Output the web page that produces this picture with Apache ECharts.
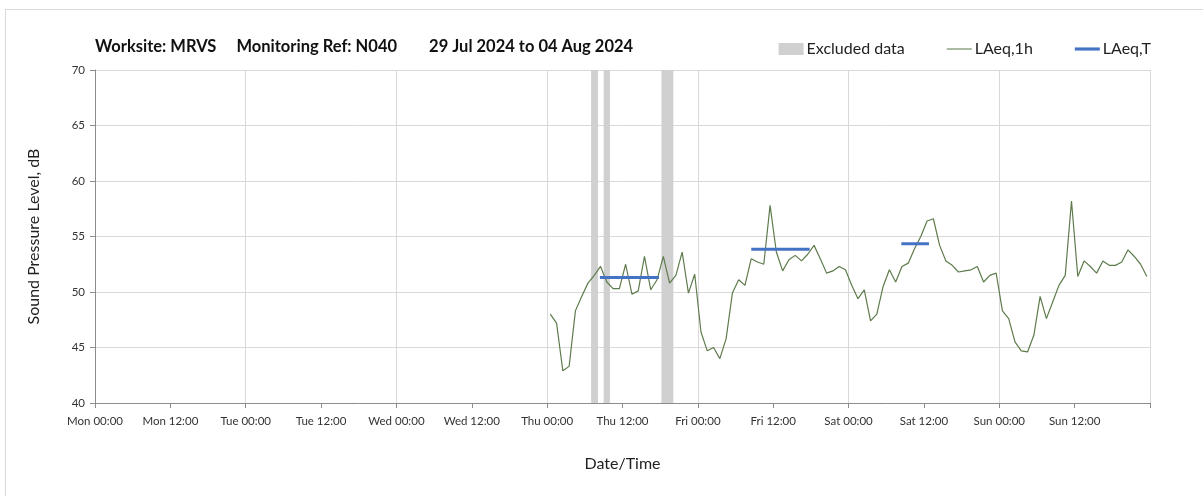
<!DOCTYPE html>
<html>
<head>
<meta charset="utf-8">
<title>Sound monitoring N040</title>
<script src="https://cdn.jsdelivr.net/npm/echarts@6/dist/echarts.min.js"></script>
<style>
    html, body { margin: 0; padding: 0; background: #fff; }
    #frame { position: absolute; left: 5px; top: 9px; width: 1300px; height: 600px; border: 1px solid #d9d9d9; }
    #chart { position: absolute; left: 0; top: 0; width: 1203px; height: 496px; }
</style>
</head>
<body>
<div id="frame"></div>
<div id="chart"></div>
<script>
// hours from Mon 00:00, one tick every 12 h
const tickLabels = ['Mon 00:00', 'Mon 12:00', 'Tue 00:00', 'Tue 12:00', 'Wed 00:00', 'Wed 12:00',
    'Thu 00:00', 'Thu 12:00', 'Fri 00:00', 'Fri 12:00', 'Sat 00:00', 'Sat 12:00', 'Sun 00:00', 'Sun 12:00'];

// hourly LAeq,1h, first value is Thu 00:00-01:00 (plotted at mid hour)
const firstHour = 72.5;
const laeq1h = [
    48.0, 47.2, 42.9, 43.3, 48.3, 49.6, 50.8, 51.5, 52.3, 50.9, 50.3, 50.3,
    52.5, 49.8, 50.1, 53.2, 50.2, 51.1, 53.2, 50.8, 51.5, 53.6, 49.9, 51.6,
    46.4, 44.7, 45.0, 44.0, 45.8, 49.9, 51.1, 50.6, 53.0, 52.7, 52.5, 57.8,
    53.6, 51.9, 52.9, 53.3, 52.8, 53.4, 54.2, 53.0, 51.7, 51.9, 52.3, 52.0,
    50.6, 49.4, 50.2, 47.4, 48.0, 50.5, 52.0, 50.9, 52.3, 52.6, 53.9, 55.0,
    56.4, 56.6, 54.2, 52.8, 52.4, 51.8, 51.9, 52.0, 52.3, 50.9, 51.5, 51.7,
    48.3, 47.6, 45.5, 44.7, 44.6, 46.1, 49.6, 47.6, 49.1, 50.6, 51.5, 58.2,
    51.4, 52.8, 52.3, 51.7, 52.8, 52.4, 52.4, 52.7, 53.8, 53.2, 52.5, 51.4
];

// LAeq,T over the assessment periods
const periodStart = [80.4, 104.5, 128.4];
const periodEnd = [89.8, 113.8, 132.8];
const periodLevel = [51.3, 53.85, 54.35];

// excluded data windows (hours)
const excludedStart = [79, 81, 90.2];
const excludedEnd = [80.1, 82, 92.1];

const chart = echarts.init(document.getElementById('chart'));

const font = 'Lato, "Open Sans", sans-serif';

const hourlyData = laeq1h.map((v, i) => [firstHour + i, v]);

const periodSeries = periodStart.map((s, i) => ({
    name: 'LAeq,T',
    type: 'line',
    data: [[s, periodLevel[i]], [periodEnd[i], periodLevel[i]]],
    symbol: 'none',
    silent: true,
    z: 4,
    lineStyle: { color: '#4472c4', width: 3 },
    itemStyle: { color: '#4472c4' }
}));

const option = {
    animation: false,
    textStyle: { fontFamily: font },
    title: {
        text: 'Worksite: MRVS     Monitoring Ref: N040        29 Jul 2024 to 04 Aug 2024',
        left: 90,
        top: 33,
        textStyle: { fontSize: 16.5, fontWeight: 'bold', color: '#111', fontFamily: font }
    },
    legend: {
        top: 36,
        right: 47,
        itemGap: 42,
        itemWidth: 25,
        itemHeight: 12,
        textStyle: { fontSize: 16, color: '#222', fontFamily: font, padding: [0, 0, 0, -2] },
        data: [
            { name: 'Excluded data', icon: 'rect', itemStyle: { color: '#d0d0d0' } },
            { name: 'LAeq,1h', icon: 'path://M0,5 L24,5 L24,6 L0,6 Z', itemStyle: { color: '#5e7b4c' } },
            { name: 'LAeq,T', icon: 'path://M0,4 L24,4 L24,7 L0,7 Z', itemStyle: { color: '#4472c4' } }
        ]
    },
    grid: { left: 95, right: 53, top: 70, bottom: 93 },
    xAxis: [
        {
            type: 'value',
            min: 0,
            max: 168,
            interval: 12,
            name: 'Date/Time',
            nameLocation: 'middle',
            nameGap: 53,
            nameTextStyle: { fontSize: 16, color: '#222' },
            axisLine: { lineStyle: { color: '#8c8c8c' } },
            axisTick: { show: true, length: 5, lineStyle: { color: '#8c8c8c' } },
            splitLine: { show: false },
            axisLabel: {
                fontSize: 11.5,
                color: '#333',
                margin: 12,
                showMaxLabel: true,
                formatter: v => tickLabels[Math.round(v / 12)] || ''
            }
        },
        {
            type: 'value',
            min: 0,
            max: 168,
            interval: 24,
            position: 'bottom',
            axisLine: { show: false },
            axisTick: { show: false },
            axisLabel: { show: false },
            splitLine: { show: true, lineStyle: { color: '#d9d9d9' } }
        }
    ],
    yAxis: {
        type: 'value',
        min: 40,
        max: 70,
        interval: 5,
        name: 'Sound Pressure Level, dB',
        nameLocation: 'middle',
        nameGap: 53,
        nameTextStyle: { fontSize: 16, color: '#222' },
        axisLine: { show: true, lineStyle: { color: '#8c8c8c' } },
        axisTick: { show: true, length: 5, lineStyle: { color: '#8c8c8c' } },
        axisLabel: { fontSize: 11.5, color: '#333', margin: 10 },
        splitLine: { show: true, lineStyle: { color: '#d9d9d9' } }
    },
    series: [
        {
            name: 'Excluded data',
            type: 'line',
            data: [],
            itemStyle: { color: '#d0d0d0' },
            markArea: {
                silent: true,
                itemStyle: { color: '#d0d0d0' },
                data: excludedStart.map((s, i) => [{ xAxis: s }, { xAxis: excludedEnd[i] }])
            }
        },
        {
            name: 'LAeq,1h',
            type: 'line',
            data: hourlyData,
            symbol: 'none',
            z: 3,
            lineStyle: { color: '#5e7b4c', width: 1.2 },
            itemStyle: { color: '#5e7b4c' }
        },
        ...periodSeries
    ]
};

chart.setOption(option);
</script>
</body>
</html>
